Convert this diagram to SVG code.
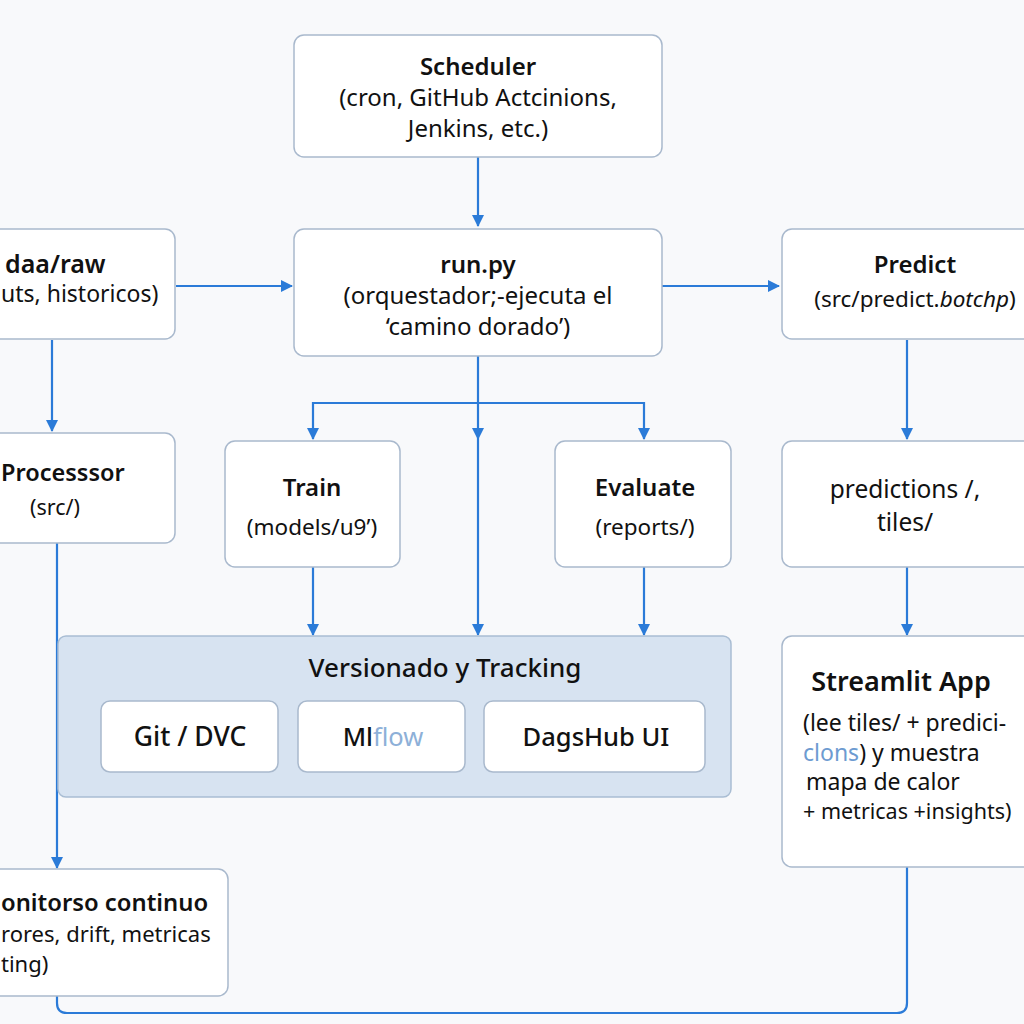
<svg xmlns="http://www.w3.org/2000/svg" width="1024" height="1024" viewBox="0 0 1024 1024">
<defs>
<style>
.bg{fill:#f8f9fb}
.box{fill:#ffffff;stroke:#a9b9cd;stroke-width:1.5}
.panel{fill:#d7e3f1;stroke:#a9bdd3;stroke-width:1.5}
.t{font-family:"Noto Sans","Liberation Sans",sans-serif;fill:#111;font-size:24px;font-weight:600;text-anchor:middle}
.s{font-family:"Noto Sans","Liberation Sans",sans-serif;fill:#111;font-size:23px;text-anchor:middle}
.c{fill:none;stroke:#2b7bd8;stroke-width:2.2}
</style>
<marker id="ah" viewBox="0 0 12 12" refX="11" refY="6" markerWidth="12" markerHeight="12" markerUnits="userSpaceOnUse" orient="auto">
<path d="M0,0 L12,6 L0,12 z" fill="#2b7bd8"/>
</marker>
</defs>
<rect class="bg" x="0" y="0" width="1024" height="1024"/>

<g id="connectors">
<path class="c" d="M478,157 V226" marker-end="url(#ah)"/>
<path class="c" d="M176,286 H292" marker-end="url(#ah)"/>
<path class="c" d="M662,286 H779" marker-end="url(#ah)"/>
<path class="c" d="M52,340 V431" marker-end="url(#ah)"/>
<path class="c" d="M478,356 V439" marker-end="url(#ah)"/>
<path class="c" d="M478,439 V635" marker-end="url(#ah)"/>
<path class="c" d="M478,403 H313 V439" marker-end="url(#ah)"/>
<path class="c" d="M478,403 H644 V439" marker-end="url(#ah)"/>
<path class="c" d="M313,567 V635" marker-end="url(#ah)"/>
<path class="c" d="M644,567 V635" marker-end="url(#ah)"/>
<path class="c" d="M907,340 V439" marker-end="url(#ah)"/>
<path class="c" d="M907,567 V635" marker-end="url(#ah)"/>
<path class="c" d="M57,543 V868" marker-end="url(#ah)"/>
<path class="c" d="M57,996 V1003 Q57,1013 67,1013 H897 Q907,1013 907,1003 V867"/>
</g>

<g id="scheduler">
<rect class="box" x="294" y="35" width="368" height="122" rx="10"/>
<text class="t" x="478" y="75">Scheduler</text>
<text class="s" x="478" y="106" style="font-size:24px">(cron, GitHub Actcinions,</text>
<text class="s" x="478" y="137" style="font-size:24px">Jenkins, etc.)</text>
</g>

<g id="run">
<rect class="box" x="294" y="229" width="368" height="127" rx="10"/>
<text class="t" x="478" y="273">run.py</text>
<text class="s" x="478" y="304" style="font-size:24px">(orquestador;-ejecuta el</text>
<text class="s" x="478" y="335" style="font-size:24px">‘camino dorado’)</text>
</g>

<g id="data-raw">
<rect class="box" x="-20" y="229" width="195" height="110" rx="10"/>
<text class="t" x="5" y="273" style="text-anchor:start;font-size:25px">daa/raw</text>
<text class="s" x="1" y="302" style="text-anchor:start">uts, historicos)</text>
</g>

<g id="predict">
<rect class="box" x="782" y="229" width="260" height="110" rx="10"/>
<text class="t" x="915" y="273">Predict</text>
<text class="s" x="915" y="307" style="font-size:22.5px">(src/predict.<tspan font-style="italic">botchp</tspan>)</text>
</g>

<g id="processor">
<rect class="box" x="-20" y="433" width="195" height="110" rx="10"/>
<text class="t" x="1" y="481" style="text-anchor:start;font-size:23.5px">Processsor</text>
<text class="s" x="55" y="515" style="font-size:21.5px">(src/)</text>
</g>

<g id="train">
<rect class="box" x="225" y="441" width="175" height="126" rx="10"/>
<text class="t" x="312" y="496">Train</text>
<text class="s" x="312" y="535" style="font-size:22.5px">(models/u9’)</text>
</g>

<g id="evaluate">
<rect class="box" x="555" y="441" width="176" height="126" rx="10"/>
<text class="t" x="645" y="496">Evaluate</text>
<text class="s" x="645" y="535" style="font-size:22.5px">(reports/)</text>
</g>

<g id="predictions">
<rect class="box" x="782" y="441" width="260" height="126" rx="10"/>
<text class="s" x="905" y="498" style="font-size:24.5px">predictions /,</text>
<text class="s" x="905" y="531" style="font-size:24.5px">tiles/</text>
</g>

<g id="versionado">
<rect class="panel" x="58" y="636" width="673" height="161" rx="8"/>
<text class="t" x="445" y="677" style="font-size:26px;font-weight:500">Versionado y Tracking</text>
<g id="git-dvc">
<rect class="box" x="101" y="701" width="177" height="71" rx="9"/>
<text class="t" x="190" y="746" style="font-size:26.5px;font-weight:500">Git / DVC</text>
</g>
<g id="mlflow">
<rect class="box" x="298" y="701" width="167" height="71" rx="9"/>
<text class="t" x="383" y="746" style="font-size:25.5px;font-weight:500">Ml<tspan fill="#8db0d8" font-weight="400">flow</tspan></text>
</g>
<g id="dagshub">
<rect class="box" x="484" y="701" width="221" height="71" rx="9"/>
<text class="t" x="596" y="746" style="font-size:25.5px;font-weight:500">DagsHub UI</text>
</g>
</g>

<g id="streamlit">
<rect class="box" x="782" y="636" width="260" height="231" rx="10"/>
<text class="t" x="901" y="691" style="font-size:27px">Streamlit  App</text>
<text class="s" x="803" y="731" style="text-anchor:start">(lee tiles/ + predici-</text>
<text class="s" x="803" y="761" style="text-anchor:start"><tspan fill="#6d9bd1">clons</tspan>) y muestra</text>
<text class="s" x="806" y="790" style="text-anchor:start">mapa de calor</text>
<text class="s" x="803" y="819" style="text-anchor:start;font-size:21.5px">+ metricas +insights)</text>
</g>

<g id="monitoring">
<rect class="box" x="-20" y="869" width="248" height="127" rx="10"/>
<text class="t" x="1" y="911" style="text-anchor:start;font-size:23.8px">onitorso continuo</text>
<text class="s" x="1" y="942" style="text-anchor:start;font-size:22px">rores, drift, metricas</text>
<text class="s" x="1" y="972" style="text-anchor:start;font-size:22px">ting)</text>
</g>
</svg>
